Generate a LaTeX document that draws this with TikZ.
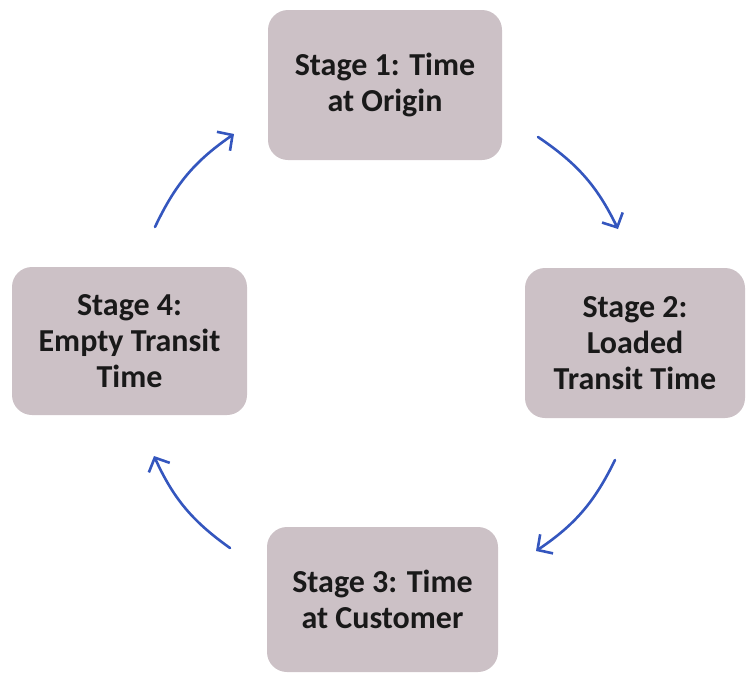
\documentclass[tikz,border=0pt]{standalone}
\usepackage{fontspec}
\setmainfont{Carlito}
\usetikzlibrary{arrows.meta}
\definecolor{boxfill}{RGB}{204,193,198}
\definecolor{arrowblue}{RGB}{52,86,190}
\tikzset{
  stagebox/.style={draw=none, fill=boxfill, rounded corners=20pt, align=center,
    font=\fontsize{32}{36}\selectfont\bfseries, text=black!90, inner sep=0pt},
  cyclearrow/.style={draw=arrowblue, line width=2.6pt, line cap=round,
    -{Straight Barb[length=11pt,width=23pt,line width=2.6pt]}, bend left=15}
}
\begin{document}
\begin{tikzpicture}[x=1pt,y=-1pt]
\useasboundingbox (0,0) rectangle (750,673);
\node[stagebox, minimum width=234pt, minimum height=150pt] (s1) at (385,85) {Stage 1: Time\\at Origin};
\node[stagebox, minimum width=220pt, minimum height=150pt] (s2) at (635,343) {Stage 2:\\Loaded\\Transit Time};
\node[stagebox, minimum width=231pt, minimum height=145pt] (s3) at (382.5,599.5) {Stage 3: Time\\at Customer};
\node[stagebox, minimum width=235pt, minimum height=148pt] (s4) at (129.5,341) {Stage 4:\\Empty Transit\\Time};
\coordinate (a1s) at (155,227);
\coordinate (a1e) at (234,134);
\coordinate (a2s) at (538,137);
\coordinate (a2e) at (618,229);
\coordinate (a3s) at (615,460);
\coordinate (a3e) at (536,551);
\coordinate (a4s) at (230,548);
\coordinate (a4e) at (154,456);
\draw[cyclearrow] (a1s) to (a1e);
\draw[cyclearrow] (a2s) to (a2e);
\draw[cyclearrow] (a3s) to (a3e);
\draw[cyclearrow] (a4s) to (a4e);
\end{tikzpicture}
\end{document}
